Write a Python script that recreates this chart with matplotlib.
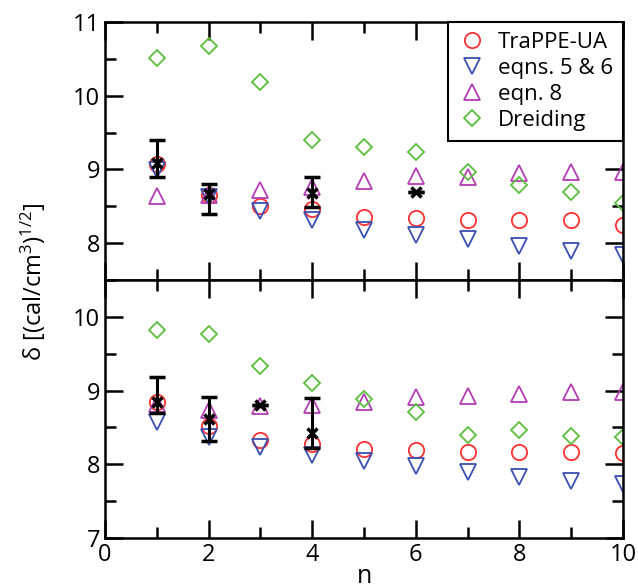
import matplotlib
matplotlib.use('Agg')
import matplotlib.pyplot as plt
import numpy as np

plt.rcParams['font.family'] = ['Open Sans', 'DejaVu Sans']
plt.rcParams['mathtext.default'] = 'regular'

n = np.arange(1, 11)

# upper panel
top_trappe = [9.08, 8.65, 8.50, 8.46, 8.36, 8.34, 8.32, 8.31, 8.32, 8.25]
top_eqn56 = [8.99, 8.63, 8.44, 8.32, 8.18, 8.11, 8.05, 7.96, 7.90, 7.84]
top_eqn8 = [8.64, 8.65, 8.72, 8.76, 8.84, 8.91, 8.90, 8.95, 8.97, 8.97]
top_dreiding = [10.51, 10.67, 10.19, 9.40, 9.31, 9.24, 8.97, 8.79, 8.70, 8.54]
top_exp_n = [1, 2, 4, 6]
top_exp = [9.09, 8.66, 8.68, 8.70]
top_exp_lo = [0.19, 0.26, 0.19, 0.0]
top_exp_hi = [0.31, 0.14, 0.22, 0.0]

# lower panel
bot_trappe = [8.84, 8.52, 8.33, 8.27, 8.21, 8.20, 8.17, 8.17, 8.17, 8.15]
bot_eqn56 = [8.57, 8.37, 8.23, 8.13, 8.04, 7.98, 7.90, 7.83, 7.77, 7.73]
bot_eqn8 = [8.82, 8.74, 8.79, 8.81, 8.85, 8.91, 8.93, 8.95, 8.98, 8.98]
bot_dreiding = [9.82, 9.77, 9.34, 9.10, 8.88, 8.71, 8.40, 8.47, 8.39, 8.37]
bot_exp_n = [1, 2, 3, 4]
bot_exp = [8.85, 8.61, 8.80, 8.42]
bot_exp_lo = [0.15, 0.30, 0.0, 0.20]
bot_exp_hi = [0.34, 0.30, 0.0, 0.48]

labels = ['TraPPE-UA', 'eqns. 5 & 6', 'eqn. 8', 'Dreiding']
colors = ['#ff3030', '#3a4fb0', '#b43cb4', '#5cbf3c']
markers = ['o', 'v', '^', 'D']
msizes = [11, 11, 11, 8]

fig = plt.figure(figsize=(6.38, 5.88), dpi=100)
ax1 = fig.add_axes([0.1646, 0.5238, 0.8119, 0.4388])
ax2 = fig.add_axes([0.1646, 0.085, 0.8119, 0.4388])


def draw(ax, series, en, ev, elo, ehi):
    for ys, c, m, s, lab in zip(series, colors, markers, msizes, labels):
        ax.plot(n, ys, linestyle='none', marker=m, markersize=s, mfc='none',
                mec=c, mew=1.3, label=lab)
    ax.errorbar(en, ev, yerr=[elo, ehi], fmt='x', color='black', ms=7,
                mew=2.5, elinewidth=2.2, capsize=6, capthick=2.2)
    ax.set_xlim(0, 10)
    ax.set_xticks([0, 2, 4, 6, 8, 10])
    ax.set_xticks(np.arange(0, 11, 1), minor=True)
    ax.tick_params(which='both', direction='in', top=True, right=True,
                   width=1.8, labelsize=17)
    ax.tick_params(which='major', length=13)
    ax.tick_params(which='minor', length=8)
    for sp in ax.spines.values():
        sp.set_linewidth(1.8)


draw(ax1, [top_trappe, top_eqn56, top_eqn8, top_dreiding],
     top_exp_n, top_exp, top_exp_lo, top_exp_hi)
ax1.set_ylim(7.5, 11)
ax1.set_yticks([8, 9, 10, 11])
ax1.set_yticks(np.arange(7.5, 11.01, 0.5), minor=True)
ax1.tick_params(labelbottom=False)

draw(ax2, [bot_trappe, bot_eqn56, bot_eqn8, bot_dreiding],
     bot_exp_n, bot_exp, bot_exp_lo, bot_exp_hi)
ax2.set_ylim(7, 10.5)
ax2.set_yticks([7, 8, 9, 10])
ax2.set_yticks(np.arange(7, 10.51, 0.5), minor=True)
ax2.set_xlabel('n', fontsize=18, labelpad=-2)

leg = ax1.legend(loc='upper right', fontsize=16, frameon=True, fancybox=False,
                 edgecolor='black', borderaxespad=0, handletextpad=0.5,
                 labelspacing=0.22, handlelength=1.3, borderpad=0.45,
                 framealpha=1)
leg.get_frame().set_linewidth(1.5)

fig.text(0.053, 0.52, r'δ [(cal/cm$^3$)$^{1/2}$]', rotation=90,
         ha='center', va='center', fontsize=17)

fig.savefig('out.png', dpi=100)
